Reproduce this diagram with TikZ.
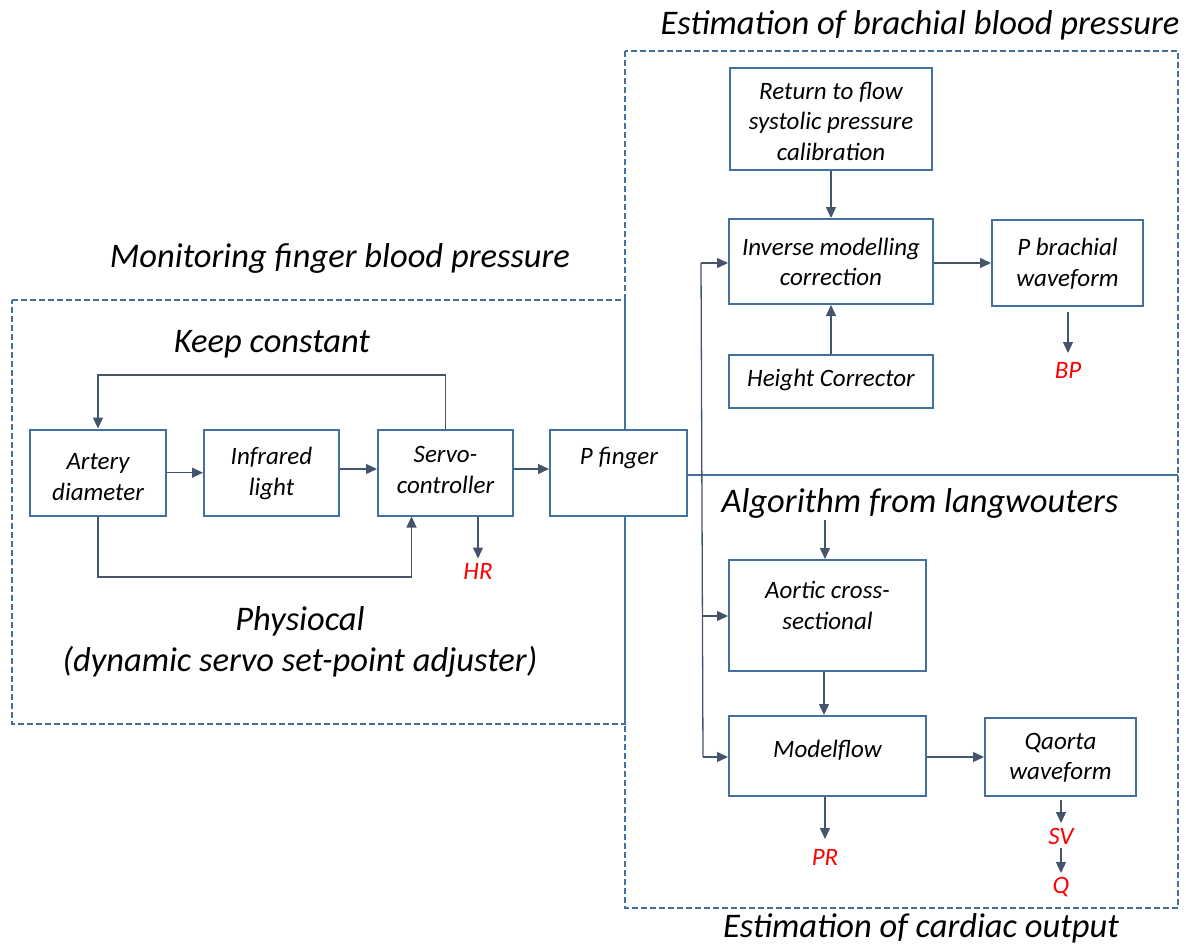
\documentclass[tikz,border=0pt]{standalone}
\usepackage{fontspec}
\setmainfont{Carlito}
\usetikzlibrary{arrows.meta}
\definecolor{boxblue}{HTML}{41719C}
\definecolor{arrgray}{HTML}{44546A}
\definecolor{lblred}{HTML}{FF0000}
\newcommand{\bxfont}{\itshape\fontsize{25}{30.5}\selectfont}
\newcommand{\hdfont}{\itshape\fontsize{34.5}{41}\selectfont}
\newcommand{\rdfont}{\itshape\fontsize{25}{28}\selectfont}
\begin{document}
\begin{tikzpicture}[x=1pt,y=-1pt,
  box/.style={draw=boxblue, line width=2pt, fill=white, inner sep=0pt},
  btext/.style={align=center, font=\bxfont, inner sep=0pt},
  arr/.style={draw=arrgray, line width=1.3pt, -{Triangle[width=10pt,length=11pt]}},
  ln/.style={draw=arrgray, line width=1.3pt},
  frame/.style={draw=boxblue, line width=1.6pt, dash pattern=on 6pt off 3pt},
  divider/.style={draw=boxblue, line width=1.8pt},
  head/.style={font=\hdfont, inner sep=0pt, align=center},
  lbl/.style={text=lblred, font=\rdfont, inner sep=0pt}]
\useasboundingbox (0,0) rectangle (1186,947);
% frames
\draw[frame] (12,300) -- (625,300) -- (625,724) -- (12,724) -- cycle;
\draw[frame] (625,51) rectangle (1178,908);
% headings
\node[head] (hbr) at (920,25) {Estimation of brachial blood pressure};
\node[head] (hmon) at (340,258) {Monitoring finger blood pressure};
\node[head] (hkeep) at (272,344) {Keep constant};
\node[head] (hphy) at (300,642) {Physiocal\\(dynamic servo set-point adjuster)};
\node[head] (halg) at (920,503) {Algorithm from langwouters};
\node[head] (hco) at (921,928) {Estimation of cardiac output};
% left boxes
\node[box, minimum width=136pt, minimum height=86pt] (ad) at (98,472.5) {};
\node[box, minimum width=135pt, minimum height=86pt] (ir) at (271.5,472.5) {};
\node[box, minimum width=135pt, minimum height=86pt] (sc) at (445.5,472.5) {};
\node[box, minimum width=137pt, minimum height=86pt] (pf) at (618.5,472.5) {};
\node[btext] (adt) at (98,477) {Artery\\diameter};
\node[btext] (irt) at (271.5,473.5) {Infrared\\light};
\node[btext] (sct) at (445.5,470) {Servo-\\controller};
\node[btext] (pft) at (619,458) {P finger};
% right boxes
\node[box, minimum width=202pt, minimum height=102pt] (rt) at (831,119) {};
\node[box, minimum width=204pt, minimum height=85pt] (im) at (831,261.5) {};
\node[box, minimum width=151pt, minimum height=86pt] (pb) at (1067.5,263) {};
\node[box, minimum width=204pt, minimum height=53pt] (hc) at (831,381.5) {};
\node[box, minimum width=197pt, minimum height=111pt] (ac) at (827.5,615.5) {};
\node[box, minimum width=197pt, minimum height=80pt] (mf) at (827.5,756) {};
\node[box, minimum width=151pt, minimum height=78pt] (qa) at (1060.5,757) {};
\node[btext] (rtt) at (831,121) {Return to flow\\systolic pressure\\calibration};
\node[btext] (imt) at (831,262) {Inverse modelling\\correction};
\node[btext] (pbt) at (1067.5,264) {P brachial\\waveform};
\node[btext] (hct) at (831,380) {Height Corrector};
\node[btext] (act) at (827.5,605.5) {Aortic cross-\\sectional};
\node[btext] (mft) at (827.5,750) {Modelflow};
\node[btext] (qat) at (1060.5,758) {Qaorta\\waveform};
% red labels
\node[lbl] (hr) at (478,571) {HR};
\node[lbl] (bp) at (1068,370) {BP};
\node[lbl] (pr) at (825,857) {PR};
\node[lbl] (sv) at (1061,836) {SV};
\node[lbl] (q) at (1061,887) {Q};
% coordinates
\coordinate (divR) at (1178,475);
\coordinate (busT) at (701,263);
\coordinate (busB) at (703,757);
\coordinate (loopL) at (98,375);
\coordinate (loopR) at (445.5,375);
\coordinate (botL) at (98,577);
\coordinate (botR) at (411.5,577);
% divider
\draw[divider] (pf.east |- divR) -- (divR);
% left connectors
\draw[arr] (ad.east |- 0,472.7) -- (ir.west |- 0,472.7);
\draw[arr] (ir.east |- 0,469) -- (sc.west |- 0,469);
\draw[arr] (sc.east |- 0,469) -- (pf.west |- 0,469);
\draw[arr] (sc.north) -- (loopR) -- (loopL) -- (ad.north);
\draw[arr] (ad.south) -- (botL) -- (botR) -- (botR |- sc.south);
\draw[arr] (sc.south -| hr) -- ++(0,42);
% bus
\draw[ln] (busT) -- (busB);
\draw[arr] (busT) -- (im.west |- busT);
\draw[arr] (701.8,616) -- (ac.west |- 0,616);
\draw[arr] (busB) -- (mf.west |- busB);
% right connectors
\draw[arr] (rt.south) -- (im.north);
\draw[arr] (hc.north) -- (im.south);
\draw[arr] (im.east |- 0,263) -- (pb.west |- 0,263);
\draw[arr] (1068,312) -- (1068,353);
\draw[arr] (825,520) -- (ac.north -| 825,0);
\draw[arr] (ac.south -| 824,0) -- (mf.north -| 824,0);
\draw[arr] (mf.east |- 0,757) -- (qa.west |- 0,757);
\draw[arr] (mf.south -| pr) -- ++(0,42);
\draw[arr] (1061,800) -- (1061,823);
\draw[arr] (1061,848) -- (1061,873);
\end{tikzpicture}
\end{document}
